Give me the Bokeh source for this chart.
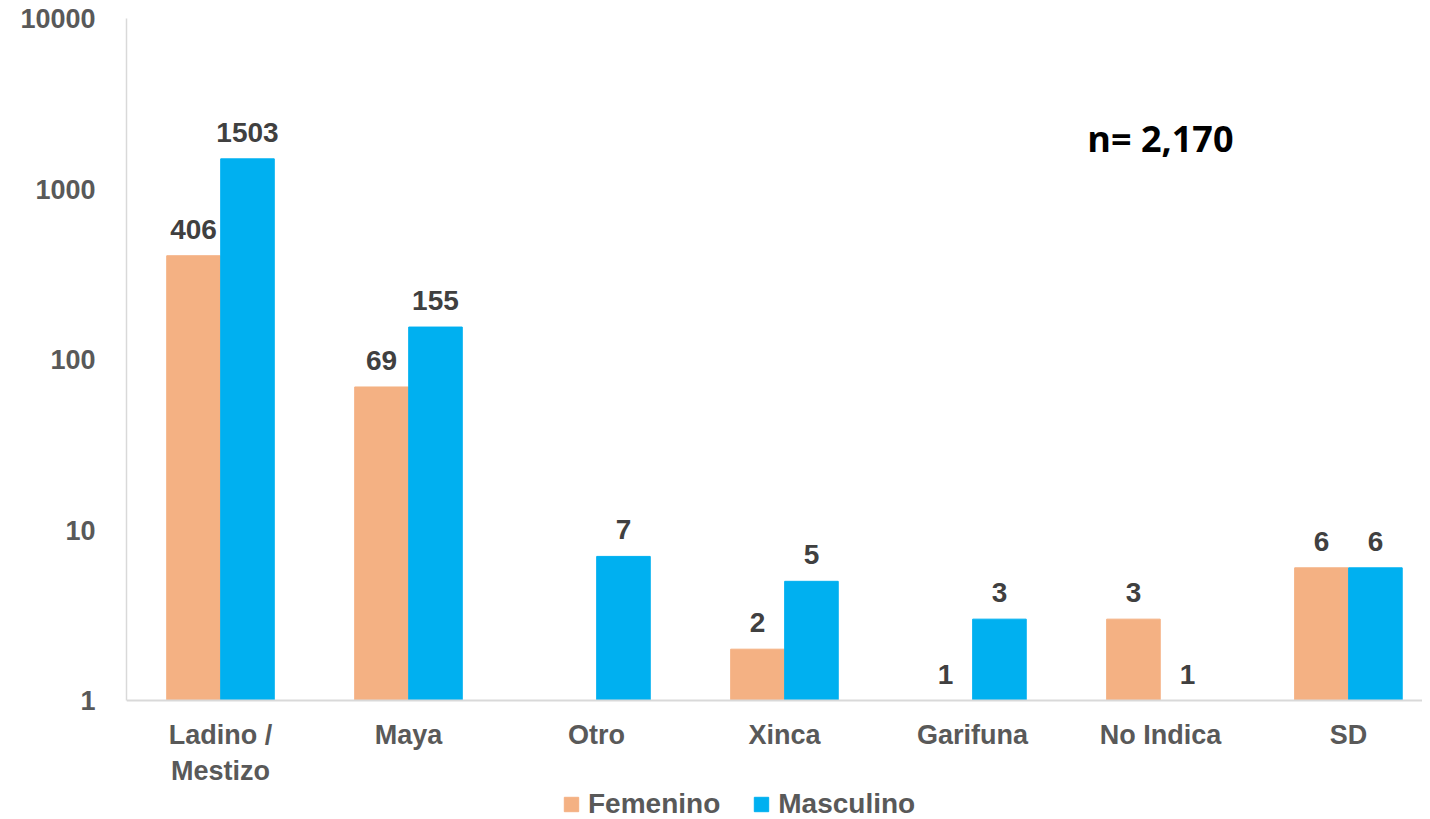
from bokeh.plotting import figure
from bokeh.models import (ColumnDataSource, Range1d, FixedTicker, PrintfTickFormatter,
                          Legend, LegendItem, Label)
from bokeh.transform import dodge
from bokeh.embed import file_html
from bokeh.resources import INLINE
from bokeh.core.properties import value

categories = ["Ladino /\nMestizo", "Maya", "Otro", "Xinca", "Garifuna", "No Indica", "SD"]
femenino = [406, 69, 0, 2, 1, 3, 6]
masculino = [1503, 155, 7, 5, 3, 1, 6]
y_ticks = [1, 10, 100, 1000, 10000]
series_names = ["Femenino", "Masculino"]
total_label = "n= 2,170"

FEM_COLOR = "#F4B183"
MAS_COLOR = "#00B0F0"
FONT = "Liberation Sans"

xs = list(range(len(categories)))
src = ColumnDataSource(dict(
    x=xs,
    fem_top=[max(v, 1) for v in femenino],
    mas_top=[max(v, 1) for v in masculino],
    fem_label=["" if v == 0 else str(v) for v in femenino],
    mas_label=["" if v == 0 else str(v) for v in masculino],
))

OFF = 0.1436
BW = 0.285
# frame: 170.5 px per decade, 118 px of room below the value-1 baseline for labels/legend
Y_START = 10 ** (-118 / 170.5)

p = figure(frame_width=1296, frame_height=800, output_backend="svg", toolbar_location=None,
           y_axis_type="log", x_range=Range1d(-0.5, 6.394), y_range=Range1d(Y_START, 10000),
           min_border_left=126, min_border_right=0, min_border_top=18, min_border_bottom=0)
p.outline_line_color = None
p.xgrid.visible = False
p.ygrid.visible = False

r_f = p.vbar(x=dodge("x", -OFF), top="fem_top", bottom=1, width=BW, source=src,
             fill_color=FEM_COLOR, line_color=FEM_COLOR)
r_m = p.vbar(x=dodge("x", OFF), top="mas_top", bottom=1, width=BW, source=src,
             fill_color=MAS_COLOR, line_color=MAS_COLOR)

for col_top, col_lab, off in (("fem_top", "fem_label", -OFF), ("mas_top", "mas_label", OFF)):
    p.text(x=dodge("x", off), y=col_top, text=col_lab, source=src, y_offset=-17,
           text_align="center", text_baseline="bottom", text_color="#404040",
           text_font=value(FONT), text_font_style="bold", text_font_size="28px")

# axes
p.yaxis.ticker = FixedTicker(ticks=y_ticks, minor_ticks=[])
p.yaxis.formatter = PrintfTickFormatter(format="%d")
p.yaxis.bounds = (1, 10000)
p.yaxis.major_tick_out = 0
p.yaxis.major_tick_in = 0
p.yaxis.minor_tick_out = 0
p.yaxis.minor_tick_in = 0
p.yaxis.axis_line_color = "#D9D9D9"
p.yaxis.axis_line_width = 1.5
p.yaxis.major_label_standoff = 31
p.yaxis.major_label_text_font = FONT
p.yaxis.major_label_text_font_style = "bold"
p.yaxis.major_label_text_font_size = "27px"
p.yaxis.major_label_text_color = "#595959"

p.xaxis.fixed_location = 1
p.xaxis.ticker = FixedTicker(ticks=xs)
p.xaxis.major_label_overrides = {i: c for i, c in zip(xs, categories)}
p.xaxis.major_tick_out = 0
p.xaxis.major_tick_in = 0
p.xaxis.minor_tick_out = 0
p.xaxis.axis_line_color = "#D9D9D9"
p.xaxis.axis_line_width = 2
p.xaxis.major_label_standoff = 19
p.xaxis.major_label_text_font = FONT
p.xaxis.major_label_text_font_style = "bold"
p.xaxis.major_label_text_font_size = "27px"
p.xaxis.major_label_text_color = "#595959"

legend = Legend(items=[LegendItem(label=series_names[0], renderers=[r_f]),
                       LegendItem(label=series_names[1], renderers=[r_m])],
                orientation="horizontal", location=(436, -2))
legend.margin = 0
legend.padding = 0
legend.spacing = 32
legend.border_line_alpha = 0
legend.background_fill_alpha = 0
legend.glyph_width = 18
legend.glyph_height = 18
legend.label_height = 18
legend.label_standoff = 8
legend.label_text_font = FONT
legend.label_text_font_style = "bold"
legend.label_text_font_size = "28px"
legend.label_text_color = "#595959"
p.add_layout(legend)

p.add_layout(Label(x=5, y=1980, text=total_label, text_align="center", text_baseline="middle",
                   text_font="Open Sans", text_font_style="bold", text_font_size="36px",
                   text_color="#000000"))

open("out.html", "w").write(file_html(p, INLINE))
